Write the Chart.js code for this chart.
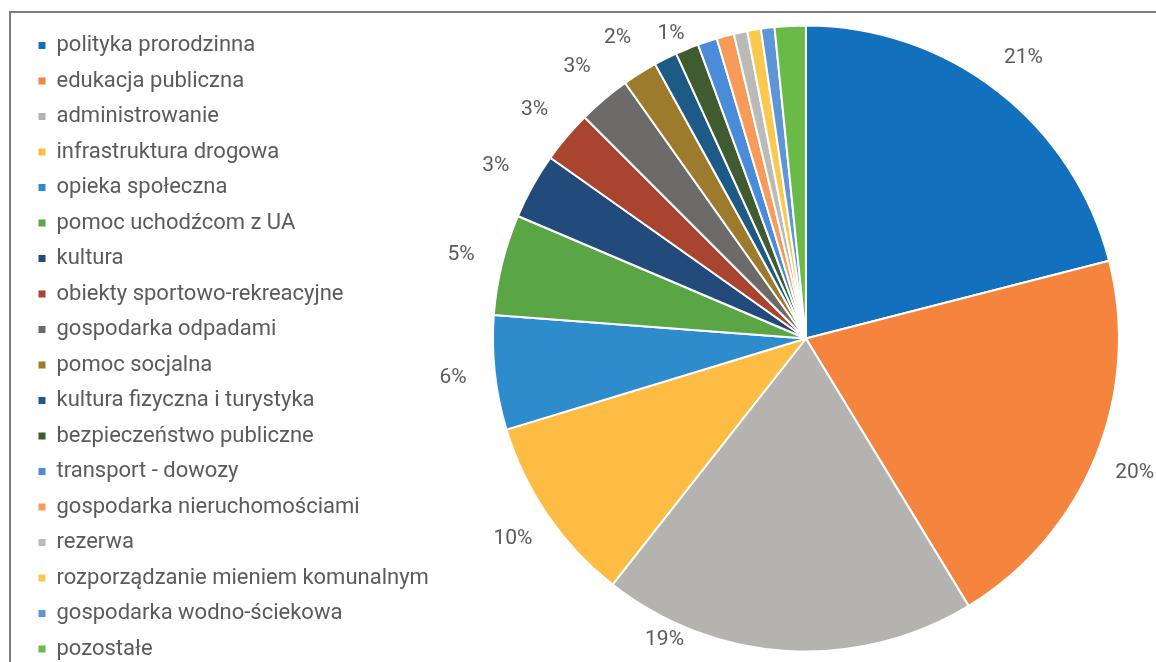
<!DOCTYPE html>
<html lang="pl">
<head>
<meta charset="utf-8">
<title>Struktura wydatków</title>
<script src="https://cdn.jsdelivr.net/npm/chart.js@4.4.1/dist/chart.umd.min.js"></script>
<style>
    html, body { margin: 0; padding: 0; background: #fff; }
    body { width: 1156px; height: 662px; overflow: hidden; position: relative; }
    .frame { position: absolute; left: 9px; top: 11px; width: 1200px; height: 700px;
             border-left: 2px solid #7d7d7d; border-top: 2px solid #7d7d7d; }
    .chart-box { position: absolute; left: 0; }
</style>
</head>
<body>
<div class="frame"></div>
<div class="chart-box" id="chart-box"><canvas id="budget-pie"></canvas></div>
<script>
const categories = [
    "polityka prorodzinna",
    "edukacja publiczna",
    "administrowanie",
    "infrastruktura drogowa",
    "opieka społeczna",
    "pomoc uchodźcom z UA",
    "kultura",
    "obiekty sportowo-rekreacyjne",
    "gospodarka odpadami",
    "pomoc socjalna",
    "kultura fizyczna i turystyka",
    "bezpieczeństwo publiczne",
    "transport - dowozy",
    "gospodarka nieruchomościami",
    "rezerwa",
    "rozporządzanie mieniem komunalnym",
    "gospodarka wodno-ściekowa",
    "pozostałe",
];

// share of the budget, %
const shares = [21.0, 20.3, 19.3, 9.7, 5.9, 5.2, 3.4, 2.7, 2.7, 1.8, 1.2, 1.2, 1.0, 0.9, 0.7, 0.7, 0.7, 1.6];

const sliceColors = [
    "#1370bd", "#f5843f", "#b5b3b0", "#fdbd45", "#2e8bcc", "#5aa546",
    "#224a7b", "#a9452e", "#6c6b6a", "#9c7b2c", "#1d5b86", "#3f5b2f",
    "#4a8cda", "#f69b58", "#bcbab8", "#f9c84c", "#5e95d6", "#6aba48",
];

// only the bigger slices carry a percentage label
const LABELED_SLICES = 11;

const TEXT_COLOR = "#5b5b5b";
const FONT_FAMILY = "Roboto";
const LEGEND_FONT_SIZE = 22;
const ROW_STEP = 35.5;
const BOX = 7;
const PAD_LEFT = 25;
const CANVAS_TOP = 21;
const CANVAS_HEIGHT = 662;
const PIE_CX = 806;
const PIE_CY = 338.5;
const PIE_RADIUS = 313;

const labelPad = ROW_STEP - LEGEND_FONT_SIZE;

// legend width as Chart.js computes it, so the pie lands where we want it
const measureCtx = document.createElement("canvas").getContext("2d");
measureCtx.font = `${LEGEND_FONT_SIZE}px ${FONT_FAMILY}`;
const longest = Math.max(...categories.map((c) => measureCtx.measureText(c).width));
const legendWidth = labelPad + BOX + LEGEND_FONT_SIZE / 2 + longest + 10;
const canvasWidth = Math.round(2 * PIE_CX - (PAD_LEFT + legendWidth));
// empty bottom title lifts the pie without shrinking the legend column
const bottomGap = CANVAS_HEIGHT - 2 * (PIE_CY - CANVAS_TOP);

const box = document.getElementById("chart-box");
box.style.top = CANVAS_TOP + "px";
box.style.width = canvasWidth + "px";
box.style.height = CANVAS_HEIGHT + "px";

const sliceLabels = {
    id: "sliceLabels",
    afterDatasetsDraw(chart) {
        const { ctx } = chart;
        const meta = chart.getDatasetMeta(0);
        const total = shares.reduce((s, v) => s + v, 0);
        const minY = 34 - CANVAS_TOP;
        const maxY = 640 - CANVAS_TOP;
        ctx.save();
        ctx.font = `21px ${FONT_FAMILY}`;
        ctx.fillStyle = TEXT_COLOR;
        ctx.textAlign = "center";
        ctx.textBaseline = "middle";
        meta.data.slice(0, LABELED_SLICES).forEach((arc, i) => {
            const mid = (arc.startAngle + arc.endAngle) / 2;
            const r = arc.outerRadius + 42;
            let x = arc.x + Math.cos(mid) * r;
            let y = arc.y + Math.sin(mid) * r;
            if (y < minY || y > maxY) {
                // no room above/below: tuck it along the rim instead
                y = Math.min(Math.max(y, minY), maxY);
                const rr = arc.outerRadius + 20;
                const dy = y - arc.y;
                const dx = Math.sqrt(Math.max(rr * rr - dy * dy, 0));
                x = arc.x + (Math.cos(mid) < 0 ? -dx : dx);
            }
            ctx.fillText(`${Math.round((shares[i] / total) * 100)}%`, x, y);
        });
        ctx.restore();
    },
};

new Chart(document.getElementById("budget-pie"), {
    type: "pie",
    data: {
        labels: categories,
        datasets: [
            {
                data: shares,
                backgroundColor: sliceColors,
                borderColor: "#ffffff",
                borderWidth: 2,
                hoverOffset: 0,
                radius: PIE_RADIUS,
            },
        ],
    },
    options: {
        responsive: true,
        maintainAspectRatio: false,
        animation: false,
        layout: { padding: { left: PAD_LEFT, right: 0, top: 0, bottom: 0 } },
        plugins: {
            tooltip: { enabled: false },
            title: {
                display: true,
                position: "bottom",
                fullSize: false,
                text: "",
                font: { size: 1, lineHeight: 1 },
                padding: { top: 0, bottom: bottomGap - 1 },
            },
            legend: {
                position: "left",
                align: "start",
                labels: {
                    boxWidth: BOX,
                    boxHeight: BOX,
                    padding: labelPad,
                    color: TEXT_COLOR,
                    font: { family: FONT_FAMILY, size: LEGEND_FONT_SIZE },
                    generateLabels: (chart) =>
                        Chart.overrides.pie.plugins.legend.labels
                            .generateLabels(chart)
                            .map((item) => ({ ...item, lineWidth: 0 })),
                },
            },
        },
    },
    plugins: [sliceLabels],
});
</script>
</body>
</html>
